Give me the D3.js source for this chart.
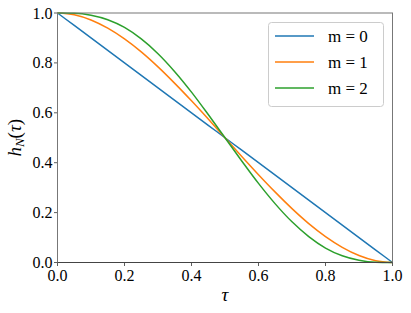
<!DOCTYPE html>
<html>
<head>
<meta charset="utf-8">
<script src="https://cdn.jsdelivr.net/npm/d3@7"></script>
</head>
<body style="margin:0">
<div id="chart"></div>
<script>
// --- données ---
const tau = [0, 0.05, 0.1, 0.15, 0.2, 0.25, 0.3, 0.35, 0.4, 0.45, 0.5,
             0.55, 0.6, 0.65, 0.7, 0.75, 0.8, 0.85, 0.9, 0.95, 1];
const h0 = [1, 0.95, 0.9, 0.85, 0.8, 0.75, 0.7, 0.65, 0.6, 0.55, 0.5,
            0.45, 0.4, 0.35, 0.3, 0.25, 0.2, 0.15, 0.1, 0.05, 0];
const h1 = [1, 0.993, 0.972, 0.939, 0.896, 0.844, 0.784, 0.718, 0.648, 0.575, 0.5,
            0.425, 0.352, 0.282, 0.216, 0.156, 0.104, 0.061, 0.028, 0.007, 0];
const h2 = [1, 0.999, 0.991, 0.973, 0.942, 0.896, 0.837, 0.765, 0.683, 0.593, 0.5,
            0.407, 0.317, 0.235, 0.163, 0.104, 0.058, 0.027, 0.009, 0.001, 0];
const etiquettes = ["m = 0", "m = 1", "m = 2"];
const couleurs = ["#1f77b4", "#ff7f0e", "#2ca02c"];
const ticks = [0, 0.2, 0.4, 0.6, 0.8, 1.0];

// --- zone de dessin ---
const largeur = 411, hauteur = 313;
const marge = { gauche: 57.5, droite: 18.5, haut: 13, bas: 50.5 };

const svg = d3.select("#chart").append("svg")
    .attr("width", largeur)
    .attr("height", hauteur);

const x = d3.scaleLinear().domain([0, 1]).range([marge.gauche, largeur - marge.droite]);
const y = d3.scaleLinear().domain([0, 1]).range([hauteur - marge.bas, marge.haut]);

// courbes
const series = [h0, h1, h2];
const ligne = d3.line()
    .x((d, i) => x(tau[i]))
    .y(d => y(d))
    .curve(d3.curveMonotoneX);

svg.append("g")
    .selectAll("path")
    .data(series)
    .join("path")
    .attr("d", ligne)
    .attr("fill", "none")
    .attr("stroke", (d, i) => couleurs[i])
    .attr("stroke-width", 1.5);

// graduations, écrites à la main (sans d3.axis)
const gx = svg.append("g");
gx.selectAll("line").data(ticks).join("line")
    .attr("x1", d => x(d)).attr("x2", d => x(d))
    .attr("y1", y(0)).attr("y2", y(0) + 3.5)
    .attr("stroke", "#333").attr("stroke-width", 0.8);
gx.selectAll("text").data(ticks).join("text")
    .attr("x", d => x(d)).attr("y", y(0) + 18)
    .attr("text-anchor", "middle")
    .style("font-family", "'Liberation Serif'").style("font-size", "16px")
    .text(d => d.toFixed(1));

const gy = svg.append("g");
gy.selectAll("line").data(ticks).join("line")
    .attr("x1", x(0) - 3.5).attr("x2", x(0))
    .attr("y1", d => y(d)).attr("y2", d => y(d))
    .attr("stroke", "#333").attr("stroke-width", 0.8);
gy.selectAll("text").data(ticks).join("text")
    .attr("x", x(0) - 5).attr("y", d => y(d) + 5.5)
    .attr("text-anchor", "end")
    .style("font-family", "'Liberation Serif'").style("font-size", "16px")
    .text(d => d.toFixed(1));

// cadre
svg.append("rect")
    .attr("x", x(0)).attr("y", y(1))
    .attr("width", x(1) - x(0)).attr("height", y(0) - y(1))
    .attr("fill", "none").attr("stroke", "#777").attr("stroke-width", 1);
svg.append("line")
    .attr("x1", x(0)).attr("x2", x(1)).attr("y1", y(0)).attr("y2", y(0))
    .attr("stroke", "#444").attr("stroke-width", 1);

// titres des axes
svg.append("text")
    .attr("x", (x(0) + x(1)) / 2).attr("y", 301)
    .attr("text-anchor", "middle")
    .style("font-family", "'Liberation Serif'").style("font-size", "19px")
    .style("font-style", "italic").text("τ");

const ty = svg.append("text")
    .attr("transform", `translate(21,${(y(0) + y(1)) / 2}) rotate(-90)`)
    .attr("text-anchor", "middle")
    .style("font-family", "'Liberation Serif'").style("font-size", "19px");
ty.append("tspan").style("font-style", "italic").text("h");
ty.append("tspan").style("font-style", "italic").style("font-size", "13px").attr("dy", 3).text("N");
ty.append("tspan").attr("dy", -3).text("(");
ty.append("tspan").style("font-style", "italic").text("τ");
ty.append("tspan").text(")");

// légende
const leg = svg.append("g");
leg.append("rect")
    .attr("x", 268.5).attr("y", 22.5).attr("width", 115).attr("height", 84)
    .attr("rx", 3).attr("fill", "#fff").attr("fill-opacity", 0.8)
    .attr("stroke", "#ccc").attr("stroke-width", 1);
const rangs = leg.selectAll("g.item").data(etiquettes).join("g")
    .attr("class", "item")
    .attr("transform", (d, i) => `translate(0,${36 + i * 26})`);
rangs.append("line")
    .attr("x1", 275).attr("x2", 314)
    .attr("stroke", (d, i) => couleurs[i]).attr("stroke-width", 1.5);
rangs.append("text")
    .attr("x", 328).attr("y", 5.5)
    .style("font-family", "'Liberation Serif'").style("font-size", "17px")
    .text(d => d);
</script>
</body>
</html>
